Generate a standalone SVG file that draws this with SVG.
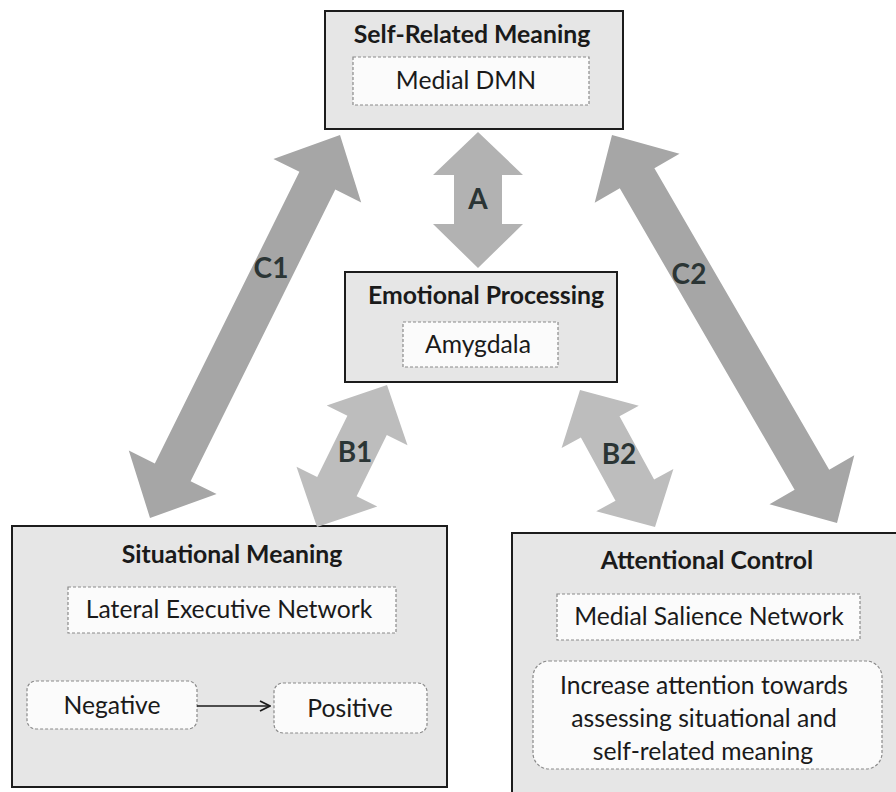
<svg xmlns="http://www.w3.org/2000/svg" width="896" height="792" viewBox="0 0 896 792">
<style>
.outer{fill:#e6e6e6;stroke:#1c1c1c;stroke-width:2}
.inner{fill:#fbfbfb;stroke:#8a8a8a;stroke-width:1.2;stroke-dasharray:3 2}
.title{font-family:Lato,"Open Sans","Liberation Sans",sans-serif;font-weight:bold;font-size:24.8px;fill:#1a1a1a;text-anchor:middle}
.txt{font-family:Lato,"Open Sans","Liberation Sans",sans-serif;font-size:24.7px;fill:#1a1a1a;text-anchor:middle}
.lab{font-family:Lato,"Open Sans","Liberation Sans",sans-serif;font-weight:bold;font-size:28px;fill:#2b3535;text-anchor:middle}
.ac{fill:#a6a6a6}
.ab{fill:#bdbdbd}
.aa{fill:#b2b2b2}
</style>
<defs>
<marker id="chev" viewBox="0 0 12 12" refX="11" refY="6" markerWidth="12" markerHeight="12" markerUnits="userSpaceOnUse" orient="auto">
<path d="M1,1 L11,6 L1,11" fill="none" stroke="#1a1a1a" stroke-width="1.8"/>
</marker>
</defs>
<rect width="896" height="792" fill="#ffffff"/>

<g id="self-related">
<rect class="outer" x="325" y="11" width="298" height="118"/>
<text class="title" x="472" y="43">Self-Related Meaning</text>
<rect class="inner" x="353" y="57" width="236" height="48"/>
<text class="txt" x="466" y="89">Medial DMN</text>
</g>

<g id="emotional">
<rect class="outer" x="345" y="272" width="272" height="110"/>
<text class="title" x="486" y="304">Emotional Processing</text>
<rect class="inner" x="403" y="322" width="155" height="45"/>
<text class="txt" x="478" y="353">Amygdala</text>
</g>

<g id="situational">
<rect class="outer" x="12" y="526" width="435" height="261"/>
<text class="title" x="232" y="563">Situational Meaning</text>
<rect class="inner" x="68" y="587" width="328" height="46"/>
<text class="txt" x="229" y="618">Lateral Executive Network</text>
<g id="negative"><rect class="inner" x="27" y="681" width="170" height="48" rx="9"/>
<text class="txt" x="112" y="714">Negative</text></g>
<g id="positive"><rect class="inner" x="274" y="683" width="153" height="50" rx="9"/>
<text class="txt" x="350" y="717">Positive</text></g>
</g>

<g id="attentional">
<rect class="outer" x="512" y="533" width="400" height="270"/>
<text class="title" x="707" y="569">Attentional Control</text>
<rect class="inner" x="557" y="594" width="303" height="46"/>
<text class="txt" x="709" y="625">Medial Salience Network</text>
<rect class="inner" x="533" y="661" width="349" height="108" rx="16"/>
<text class="txt" x="704" y="694">Increase attention towards</text>
<text class="txt" x="704" y="727">assessing situational and</text>
<text class="txt" x="703" y="760">self-related meaning</text>
</g>

<g id="connectors">
<g id="C1"><polygon class="ac" points="340,135 361.2,202.5 335.3,189.6 190.6,481.2 216.6,494.1 150,518 128.8,450.5 154.8,463.4 299.4,171.8 273.4,158.9"/><text class="lab" x="271" y="278">C1</text></g>
<g id="C2"><polygon class="ac" points="612,135 679.5,153.7 654.4,168.2 829.2,469.7 854.3,455.2 837,523 769.5,504.3 794.6,489.8 619.8,188.3 594.7,202.8"/><text class="lab" x="689" y="284">C2</text></g>
<g id="A"><polygon class="aa" points="478,132 523,175 502,175 502,224 523,224 478,268 433,224 454,224 454,175 433,175"/><text class="lab" x="478" y="209">A</text></g>
<g id="B1"><polygon class="ab" points="387,385 407.5,445.3 386.8,435.1 356.6,496.3 377.3,506.5 317,527 296.5,466.7 317.2,476.9 347.4,415.7 326.7,405.5"/><text class="lab" x="355" y="462">B1</text></g>
<g id="B2"><polygon class="ab" points="580,390 638.8,405.7 619.5,416.3 654.1,479.6 673.4,469.0 655,527 596.2,511.3 615.5,500.7 580.9,437.4 561.6,448.0"/><text class="lab" x="619" y="464">B2</text></g>
<line x1="197" y1="706" x2="270" y2="706" stroke="#1a1a1a" stroke-width="1.6" marker-end="url(#chev)"/>
</g>
</svg>
